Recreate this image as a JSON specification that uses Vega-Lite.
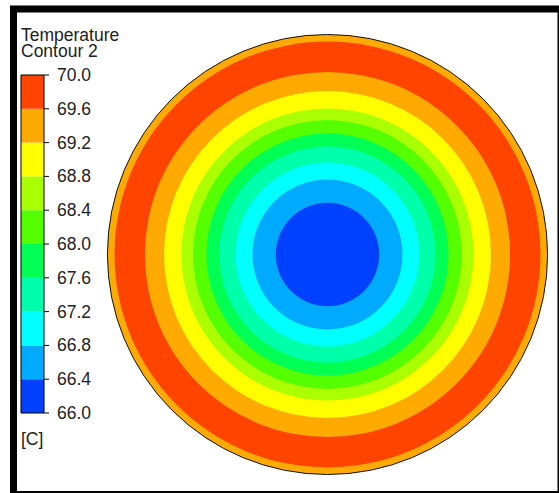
{
  "$schema": "https://vega.github.io/schema/vega-lite/v6.json",
  "width": 547.5,
  "height": 485.5,
  "autosize": {"type": "none"},
  "padding": {"left": 13.5, "top": 9, "right": -2, "bottom": -1.5},
  "background": "white",
  "config": {
    "view": {"stroke": "#000000", "strokeWidth": 7},
    "text": {"font": "Liberation Sans", "fontSize": 17.5, "color": "#222222"}
  },
  "datasets": {
    "discs": [
      {"lo": 69.2, "r": 1.0},
      {"lo": 69.6, "r": 0.968},
      {"lo": 69.2, "r": 0.83},
      {"lo": 68.8, "r": 0.743},
      {"lo": 68.4, "r": 0.664},
      {"lo": 68.0, "r": 0.611},
      {"lo": 67.6, "r": 0.55},
      {"lo": 67.2, "r": 0.491},
      {"lo": 66.8, "r": 0.418},
      {"lo": 66.4, "r": 0.341},
      {"lo": 66.0, "r": 0.235}
    ],
    "bands": [
      {"lo": 66.0, "hi": 66.4},
      {"lo": 66.4, "hi": 66.8},
      {"lo": 66.8, "hi": 67.2},
      {"lo": 67.2, "hi": 67.6},
      {"lo": 67.6, "hi": 68.0},
      {"lo": 68.0, "hi": 68.4},
      {"lo": 68.4, "hi": 68.8},
      {"lo": 68.8, "hi": 69.2},
      {"lo": 69.2, "hi": 69.6},
      {"lo": 69.6, "hi": 70.0}
    ],
    "ticks": [
      {"t": 66.0}, {"t": 66.4}, {"t": 66.8}, {"t": 67.2}, {"t": 67.6},
      {"t": 68.0}, {"t": 68.4}, {"t": 68.8}, {"t": 69.2}, {"t": 69.6}, {"t": 70.0}
    ],
    "legendTitle": [{"variable": "Temperature", "unit": "[C]"}]
  },
  "resolve": {"scale": {"y": "independent"}},
  "layer": [
    {
      "layer": [
        {
          "data": {"name": "discs"},
          "mark": {"type": "arc", "theta": 0, "theta2": 6.283185307179586, "stroke": null},
          "encoding": {
            "x": {"datum": 0, "type": "quantitative", "scale": {"domain": [-1.427273, 1.061364], "nice": false, "zero": false}, "axis": null},
            "y": {"datum": 0, "type": "quantitative", "scale": {"domain": [-1.090909, 1.115909], "nice": false, "zero": false}, "axis": null},
            "radius": {"field": "r", "type": "quantitative", "stack": null, "scale": {"type": "linear", "domain": [0, 1], "range": [0, 220], "zero": true, "nice": false}},
            "color": {
              "field": "lo", "type": "quantitative",
              "scale": {
                "type": "threshold",
                "domain": [66.4, 66.8, 67.2, 67.6, 68.0, 68.4, 68.8, 69.2, 69.6],
                "range": ["#0040ff", "#00aaff", "#00ffff", "#00ffaa", "#00ff55", "#55ff00", "#aaff00", "#ffff00", "#ffaa00", "#ff4400"]
              },
              "legend": null
            },
            "order": {"field": "r", "type": "quantitative", "sort": "descending"}
          }
        },
        {
          "data": {"values": [{"edge": 1}]},
          "mark": {"type": "arc", "theta": 0, "theta2": 6.283185307179586, "filled": false, "stroke": "#111111", "strokeWidth": 1},
          "encoding": {
            "x": {"datum": 0, "type": "quantitative"},
            "y": {"datum": 0, "type": "quantitative"},
            "radius": {"field": "edge", "type": "quantitative", "stack": null}
          }
        }
      ]
    },
    {
      "layer": [
        {
          "data": {"name": "bands"},
          "mark": {"type": "rect", "stroke": null},
          "encoding": {
            "x": {"datum": -1.393182, "type": "quantitative"},
            "x2": {"datum": -1.288636},
            "y": {"field": "lo", "type": "quantitative", "scale": {"domain": [65.035503, 70.781065], "nice": false, "zero": false}, "axis": null},
            "y2": {"field": "hi"},
            "color": {
              "field": "lo", "type": "quantitative",
              "scale": {
                "type": "threshold",
                "domain": [66.4, 66.8, 67.2, 67.6, 68.0, 68.4, 68.8, 69.2, 69.6],
                "range": ["#0040ff", "#00aaff", "#00ffff", "#00ffaa", "#00ff55", "#55ff00", "#aaff00", "#ffff00", "#ffaa00", "#ff4400"]
              },
              "legend": null
            }
          }
        },
        {
          "data": {"values": [{"lo": 66.0, "hi": 70.0}]},
          "mark": {"type": "rect", "filled": false, "stroke": "#000000", "strokeWidth": 1},
          "encoding": {
            "x": {"datum": -1.393182, "type": "quantitative"},
            "x2": {"datum": -1.288636},
            "y": {"field": "lo", "type": "quantitative"},
            "y2": {"field": "hi"}
          }
        },
        {
          "data": {"name": "ticks"},
          "mark": {"type": "rule", "stroke": "#000000", "strokeWidth": 1},
          "encoding": {
            "x": {"datum": -1.288636, "type": "quantitative"},
            "x2": {"datum": -1.265909},
            "y": {"field": "t", "type": "quantitative"}
          }
        },
        {
          "data": {"name": "ticks"},
          "mark": {"type": "text", "align": "left", "baseline": "middle", "dy": 1},
          "encoding": {
            "x": {"datum": -1.229545, "type": "quantitative"},
            "y": {"field": "t", "type": "quantitative"},
            "text": {"field": "t", "type": "quantitative", "format": ".1f"}
          }
        },
        {
          "data": {"name": "legendTitle"},
          "mark": {"type": "text", "align": "left", "baseline": "alphabetic", "lineHeight": 16, "text": ["Temperature", "Contour 2"]},
          "encoding": {
            "x": {"datum": -1.393182, "type": "quantitative"},
            "y": {"datum": 70.402367, "type": "quantitative"}
          }
        },
        {
          "data": {"name": "legendTitle"},
          "mark": {"type": "text", "align": "left", "baseline": "alphabetic"},
          "encoding": {
            "x": {"datum": -1.393182, "type": "quantitative"},
            "y": {"datum": 65.621302, "type": "quantitative"},
            "text": {"field": "unit", "type": "nominal"}
          }
        }
      ]
    }
  ]
}
